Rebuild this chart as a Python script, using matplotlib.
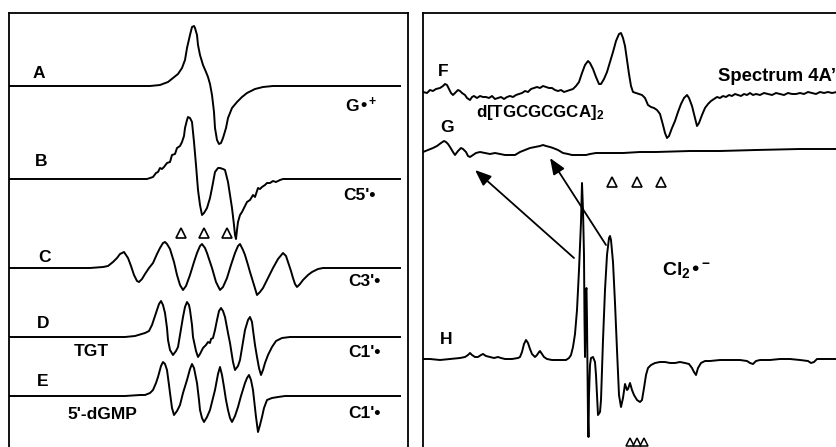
import numpy as np
import matplotlib
matplotlib.use("Agg")
import matplotlib.pyplot as plt

plt.rcParams['font.family'] = ['Liberation Sans', 'DejaVu Sans']
plt.rcParams['font.weight'] = 'bold'
plt.rcParams['mathtext.default'] = 'regular'

# ---- Trace data (x = field position, y = signal position) ----
trace_A = [(9, 86), (60, 86), (120, 86), (150, 86), (160, 85), (168, 82), (173, 78), (178, 74), (182, 68),
           (185, 60), (187, 48), (190, 35), (192, 27), (194, 26), (195, 28), (197, 35), (198, 45), (200, 55),
           (203, 65), (206, 72), (208, 77), (210, 84), (212, 95), (214, 112), (215, 128), (217, 140), (219, 144),
           (221, 143), (223, 138), (226, 128), (228, 118), (232, 108), (237, 102), (242, 97), (247, 93), (255, 89),
           (263, 87), (273, 86), (290, 86), (330, 86), (370, 86), (400, 86)]
trace_B = [(9, 179), (100, 179), (147, 179), (150, 178), (153, 177), (156, 173), (158, 172), (160, 168), (162, 169),
           (164, 167), (167, 163), (170, 162), (172, 155), (175, 154), (177, 148), (180, 146), (182, 142), (184, 136),
           (185, 128), (187, 120), (188, 117), (190, 118), (192, 122), (194, 142), (196, 165), (198, 190), (200, 205),
           (202, 215), (204, 213), (207, 208), (210, 198), (212, 188), (215, 172), (218, 168), (220, 168), (223, 169),
           (225, 170), (228, 182), (230, 195), (232, 208), (234, 225), (235, 235), (236, 239), (237, 230), (238, 222),
           (240, 215), (242, 212), (245, 206), (247, 202), (250, 200), (253, 195), (255, 197), (258, 188), (260, 189),
           (262, 187), (265, 185), (267, 183), (270, 183), (273, 181), (276, 182), (280, 180), (283, 179), (300, 179),
           (400, 179)]
trace_C = [(9, 268), (90, 268), (103, 267), (108, 266), (113, 262), (117, 258), (120, 254), (124, 252), (128, 258),
           (131, 266), (134, 275), (137, 281), (139, 282), (142, 279), (145, 274), (149, 268), (153, 263), (157, 254),
           (160, 248), (163, 243), (165, 242), (167, 244), (170, 249), (174, 262), (177, 275), (180, 285), (183, 290),
           (186, 286), (190, 275), (194, 262), (197, 253), (200, 246), (202, 244), (205, 248), (207, 253), (210, 262),
           (212, 268), (216, 282), (220, 290), (223, 287), (227, 278), (231, 265), (235, 253), (238, 246), (240, 244),
           (243, 250), (245, 255), (248, 265), (250, 272), (254, 285), (257, 295), (260, 292), (263, 288), (268, 278),
           (273, 268), (278, 259), (283, 253), (286, 256), (288, 262), (291, 271), (293, 278), (295, 284), (297, 287),
           (300, 284), (303, 280), (308, 275), (312, 272), (318, 269), (323, 268), (340, 268), (400, 268)]
trace_D = [(9, 337), (125, 337), (135, 336), (145, 333), (149, 331), (152, 325), (155, 316), (157, 310), (159, 304),
           (161, 301), (163, 305), (165, 313), (167, 328), (168, 340), (170, 350), (173, 355), (176, 351), (178, 347),
           (180, 335), (183, 317), (185, 307), (187, 302), (189, 305), (190, 310), (192, 325), (193, 337), (196, 351),
           (198, 357), (200, 354), (203, 348), (206, 345), (208, 342), (210, 343), (211, 339), (213, 338), (215, 330),
           (217, 320), (219, 311), (221, 308), (223, 311), (225, 317), (228, 333), (230, 343), (233, 362), (235, 370),
           (238, 366), (240, 360), (243, 342), (245, 330), (248, 320), (250, 317), (252, 322), (253, 330), (255, 345),
           (257, 357), (259, 368), (261, 375), (263, 370), (265, 363), (268, 355), (272, 347), (276, 341), (282, 338),
           (290, 337), (400, 337)]
trace_E = [(9, 396), (125, 396), (140, 395), (145, 395), (150, 393), (153, 390), (156, 383), (158, 377), (161, 366),
           (163, 362), (165, 364), (167, 370), (169, 385), (170, 393), (172, 408), (174, 415), (177, 411), (180, 405),
           (183, 393), (187, 380), (190, 369), (192, 364), (194, 368), (197, 383), (199, 400), (200, 410), (202, 418),
           (204, 422), (207, 417), (210, 410), (213, 398), (215, 390), (218, 374), (220, 367), (222, 375), (224, 387),
           (226, 400), (228, 410), (230, 418), (232, 422), (235, 416), (238, 407), (241, 396), (245, 383), (247, 378),
           (249, 375), (251, 380), (253, 390), (255, 408), (256, 417), (258, 432), (260, 425), (262, 417), (264, 408),
           (267, 400), (272, 398), (278, 397), (285, 396), (295, 396), (400, 396)]
trace_F = [(423, 92), (427, 93), (430, 90), (433, 91), (436, 89), (440, 88), (443, 86), (445, 84), (447, 85), (449, 89),
           (451, 93), (453, 95), (456, 92), (458, 90), (460, 91), (462, 93), (465, 95), (467, 98), (470, 100), (472, 97),
           (474, 96), (477, 98), (480, 96), (483, 97), (486, 97), (489, 98), (492, 96), (495, 99), (498, 98), (501, 97),
           (504, 99), (507, 97), (510, 96), (513, 97), (516, 95), (519, 94), (522, 93), (525, 91), (528, 92), (531, 89),
           (534, 88), (537, 87), (540, 88), (543, 86), (546, 87), (549, 88), (552, 88), (555, 90), (558, 91), (561, 90),
           (564, 92), (567, 91), (570, 90), (573, 89), (576, 86), (579, 82), (582, 73), (585, 65), (588, 61), (590, 63),
           (593, 69), (596, 77), (599, 84), (601, 84), (604, 79), (607, 72), (610, 62), (613, 52), (616, 41), (619, 34),
           (621, 33), (623, 38), (625, 46), (627, 60), (629, 74), (631, 86), (633, 92), (636, 93), (639, 94), (642, 95),
           (645, 98), (648, 105), (651, 107), (654, 108), (657, 110), (660, 114), (663, 125), (665, 133), (667, 138),
           (669, 136), (672, 128), (675, 121), (678, 112), (681, 104), (684, 98), (687, 95), (689, 98), (692, 106),
           (695, 118), (697, 126), (699, 123), (702, 115), (705, 108), (708, 104), (711, 101), (714, 99), (717, 97),
           (720, 98), (723, 96), (726, 97), (729, 95), (732, 96), (735, 94), (738, 95), (741, 96), (744, 94), (747, 95),
           (750, 93), (753, 95), (756, 94), (760, 95), (764, 93), (768, 94), (772, 95), (776, 93), (780, 94), (784, 95),
           (788, 93), (792, 94), (796, 94), (800, 93), (804, 94), (808, 92), (812, 93), (816, 94), (820, 92), (824, 93),
           (828, 92), (832, 93), (837, 92)]
trace_G = [(423, 152), (428, 150), (433, 148), (437, 146), (441, 143), (444, 141), (446, 142), (448, 144), (450, 147),
           (453, 152), (455, 155), (458, 151), (461, 148), (463, 149), (466, 152), (468, 156), (470, 157), (473, 155),
           (476, 153), (480, 152), (485, 153), (490, 154), (495, 153), (500, 154), (505, 155), (510, 155), (515, 155),
           (520, 152), (525, 150), (530, 148), (535, 147), (540, 146), (543, 145), (546, 146), (550, 147), (553, 148),
           (558, 150), (563, 153), (568, 154), (572, 155), (576, 155), (580, 155), (586, 155), (590, 154), (596, 153),
           (610, 153), (623, 153), (640, 152), (656, 152), (690, 151), (720, 151), (756, 150), (800, 149), (837, 149)]
trace_H = [(423, 359), (430, 359), (440, 360), (450, 359), (460, 358), (465, 357), (468, 355), (470, 353), (472, 355),
           (475, 357), (478, 357), (481, 355), (483, 354), (486, 356), (490, 357), (494, 358), (498, 357), (501, 358),
           (505, 359), (512, 359), (518, 358), (520, 357), (522, 352), (524, 344), (526, 340), (528, 343), (530, 349),
           (532, 354), (535, 357), (537, 355), (539, 352), (540, 351), (542, 354), (544, 357), (547, 359), (552, 360),
           (560, 360), (566, 360), (569, 358), (571, 355), (573, 347), (575, 334), (577, 310), (579, 270), (581, 222),
           (582, 183), (583, 210), (584, 255), (584.5, 320), (585, 357), (586, 290), (586.5, 288), (587, 320),
           (587.5, 370), (588, 420), (588.5, 437), (589, 395), (590, 365), (591, 358), (593, 357), (595, 362),
           (596, 375), (597, 395), (598, 415), (600, 412), (601, 400), (603, 340), (605, 290), (607, 255), (609, 238),
           (610, 236), (611, 240), (613, 262), (615, 303), (617, 350), (619, 395), (621, 407), (623, 398), (625, 384),
           (627, 390), (628, 389), (630, 383), (632, 390), (634, 395), (637, 400), (640, 402), (642, 400), (644, 388),
           (646, 375), (648, 368), (651, 365), (655, 363), (660, 362), (665, 362), (670, 363), (675, 363), (680, 362),
           (685, 363), (689, 364), (692, 368), (694, 372), (696, 375), (698, 368), (701, 363), (705, 361), (710, 361),
           (720, 360), (730, 360), (740, 360), (747, 361), (750, 363), (753, 364), (756, 361), (760, 360), (770, 360),
           (780, 359), (790, 359), (800, 360), (808, 361), (811, 363), (814, 362), (817, 359), (825, 359), (837, 359)]

# open-triangle markers
tri_left = [(181, 233), (204, 233), (227, 233)]
tri_right_top = [(612, 182), (637, 182), (661, 182)]
tri_right_bottom = [(630, 442), (637, 442), (644, 442)]

# arrows: (head, tail)
arrows = [((475, 170), (574, 258)), ((550, 158), (606, 245))]

W, H = 837, 447
fig = plt.figure(figsize=(W / 100, H / 100), dpi=100)

axL = fig.add_axes([9 / W, 0, (408.5 - 9) / W, (H - 13) / H])
axL.set_xlim(9, 408.5)
axL.set_ylim(H, 13)
axR = fig.add_axes([423 / W, 0, (900 - 423) / W, (H - 13) / H])
axR.set_xlim(423, 900)
axR.set_ylim(H, 13)

for ax in (axL, axR):
    ax.set_xticks([])
    ax.set_yticks([])
    ax.spines['bottom'].set_visible(False)
    for s in ax.spines.values():
        s.set_linewidth(1.3)
axR.spines['right'].set_visible(False)

lw = 1.4
for tr in (trace_A, trace_B, trace_C, trace_D, trace_E):
    a = np.array(tr, dtype=float)
    axL.plot(a[:, 0], a[:, 1], color='black', lw=lw, solid_joinstyle='round')
for tr in (trace_F, trace_G, trace_H):
    a = np.array(tr, dtype=float)
    axR.plot(a[:, 0], a[:, 1], color='black', lw=lw, solid_joinstyle='round')

t = np.array(tri_left)
axL.plot(t[:, 0], t[:, 1], ls='none', marker='^', ms=7.5, mfc='white', mec='black', mew=1.2)
t = np.array(tri_right_top)
axR.plot(t[:, 0], t[:, 1], ls='none', marker='^', ms=7.5, mfc='white', mec='black', mew=1.2)
t = np.array(tri_right_bottom)
axR.plot(t[:, 0], t[:, 1], ls='none', marker='^', ms=5.5, mfc='white', mec='black', mew=1.1)

for head, tail in arrows:
    axR.annotate('', xy=head, xytext=tail,
                 arrowprops=dict(arrowstyle='-|>,head_length=0.7,head_width=0.28', lw=1.3,
                                 color='black', mutation_scale=14, shrinkA=0, shrinkB=0))

fs = 12.5
# left panel labels
for txt, x, y in [('A', 33, 73), ('B', 35, 161), ('C', 38, 258), ('D', 37, 324), ('E', 37, 381)]:
    axL.text(x, y, txt, fontsize=fs, fontweight='bold', ha='left', va='center')
axL.text(91.5, 351, 'TGT', fontsize=fs, fontweight='bold', ha='center', va='center')
axL.text(102, 414.5, "5'-dGMP", fontsize=fs, fontweight='bold', ha='center', va='center')
axL.text(345, 105, 'G\u2022$^{+}$', fontsize=fs, fontweight='bold', ha='left', va='center')
axL.text(343, 196, "C5'\u2022", fontsize=fs, fontweight='bold', ha='left', va='center')
axL.text(348, 281.5, "C3'\u2022", fontsize=fs, fontweight='bold', ha='left', va='center')
axL.text(348, 352.5, "C1'\u2022", fontsize=fs, fontweight='bold', ha='left', va='center')
axL.text(348, 414, "C1'\u2022", fontsize=fs, fontweight='bold', ha='left', va='center')

# right panel labels
axR.text(438, 71, 'F', fontsize=fs, fontweight='bold', ha='left', va='center')
axR.text(440, 127.5, 'G', fontsize=fs, fontweight='bold', ha='left', va='center')
axR.text(440, 339, 'H', fontsize=fs, fontweight='bold', ha='left', va='center')
axR.text(718, 76.5, 'Spectrum 4A\u2019', fontsize=13.3, fontweight='bold', ha='left', va='center')
axR.text(476, 112, 'd[TGCGCGCA]$_{2}$', fontsize=12.2, fontweight='bold', ha='left', va='center')
axR.text(662, 270, 'Cl$_{2}$\u2022$^{-}$', fontsize=14, fontweight='bold', ha='left', va='center')

fig.savefig('out.png', dpi=100)
